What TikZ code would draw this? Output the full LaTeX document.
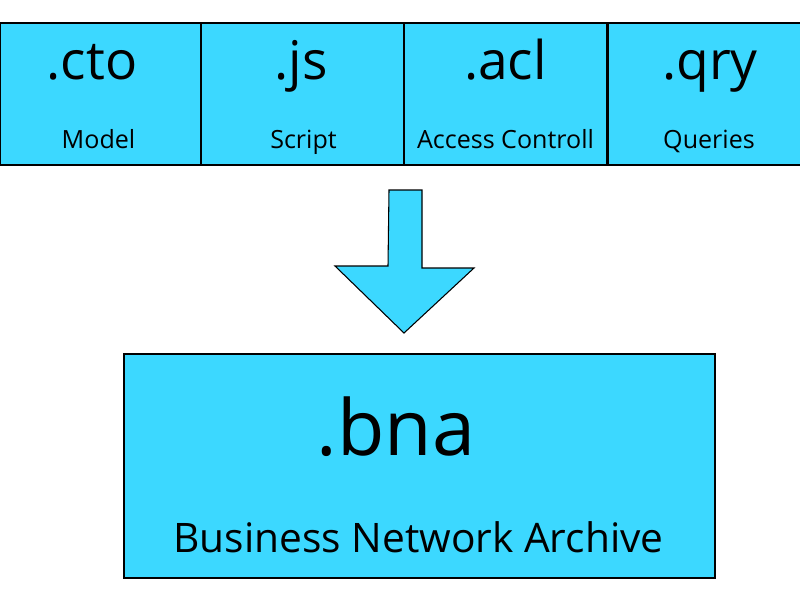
\documentclass[tikz,border=0pt]{standalone}
\usepackage{fontspec}
\setmainfont{Open Sans}
\definecolor{boxfill}{RGB}{60,216,255}
\begin{document}
\begin{tikzpicture}[x=0.75pt,y=-0.75pt,
  filebox/.style={draw=black, line width=0.9pt, fill=boxfill, rectangle, inner sep=0pt, outer sep=0pt},
  ext/.style={anchor=base, inner sep=0pt, font=\fontsize{40}{40}\selectfont},
  desc/.style={anchor=base, inner sep=0pt, font=\fontsize{18.8}{18.8}\selectfont},
  bigext/.style={anchor=base, inner sep=0pt, font=\fontsize{58}{58}\selectfont},
  bigdesc/.style={anchor=base, inner sep=0pt, font=\fontsize{30.5}{30.5}\selectfont},
  blockarrow/.style={draw=black, line width=0.8pt, fill=boxfill, line join=miter}]
\useasboundingbox (0,0) rectangle (800,600);
\fill[white] (0,0) rectangle (800,600);
% top file boxes
\node[filebox, minimum width=150.75pt, minimum height=106.5pt] (cto) at (100.5,94) {};
\node[filebox, minimum width=152.25pt, minimum height=106.5pt] (js) at (302.5,94) {};
\node[filebox, minimum width=151.9pt, minimum height=106.5pt] (acl) at (505.25,94) {};
\node[filebox, minimum width=144.75pt, minimum height=106.5pt] (qry) at (704.5,94) {};
\node[ext] (ctoT) at (92,79) {.cto};
\node[ext] (jsT) at (301,79) {.js};
\node[ext] (aclT) at (505.5,79) {.acl};
\node[ext] (qryT) at (710,79) {.qry};
\node[desc] (ctoD) at (98.5,148) {Model};
\node[desc] (jsD) at (303.5,148) {Script};
\node[desc] (aclD) at (505.5,148) {Access Controll};
\node[desc] (qryD) at (709,148) {Queries};
% block arrow
\draw[blockarrow] (389,190) -- (422,190) -- (422,268) -- (474,268) -- (404,333) -- (335,266) -- (388,266) -- cycle;
% bottom box
\node[filebox, minimum width=443.25pt, minimum height=168pt] (bna) at (419.5,466) {};
\node[bigext] (bnaT) at (396,455) {.bna};
\node[bigdesc] (bnaD) at (418.5,552) {Business Network Archive};
\end{tikzpicture}
\end{document}
